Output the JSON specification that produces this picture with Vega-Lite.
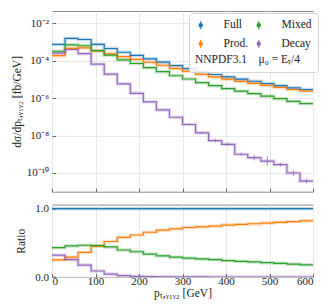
{
  "$schema": "https://vega.github.io/schema/vega-lite/v6.json",
  "padding": {"left": 10, "top": 10, "right": 0, "bottom": 0},
  "background": "white",
  "spacing": 8.6,
  "config": {
    "font": "Liberation Serif",
    "view": {"stroke": "#8c8c8c", "strokeWidth": 1},
    "axis": {
      "labelFont": "Liberation Serif", "titleFont": "Liberation Serif",
      "labelFontSize": 11, "titleFontSize": 11.5, "labelColor": "#222", "titleColor": "#222",
      "titleFontWeight": "normal", "domain": false, "tickColor": "#666",
      "tickSize": -3.5, "labelPadding": 7, "gridColor": "#e8e8e8", "gridWidth": 1
    }
  },
  "datasets": {
    "top": [
      {"lo": 0, "hi": 30, "Full": 7.41e-4, "Prod": 1.85e-4, "Mixed": 3.19e-4, "Decay": 2.5e-4},
      {"lo": 30, "hi": 60, "Full": 1.55e-3, "Prod": 4.50e-4, "Mixed": 7.05e-4, "Decay": 3.95e-4},
      {"lo": 60, "hi": 90, "Full": 1.35e-3, "Prod": 4.86e-4, "Mixed": 6.28e-4, "Decay": 2.36e-4},
      {"lo": 90, "hi": 120, "Full": 7.41e-4, "Prod": 3.33e-4, "Mixed": 3.41e-4, "Decay": 6.5e-5},
      {"lo": 120, "hi": 150, "Full": 4.47e-4, "Prod": 2.32e-4, "Mixed": 1.97e-4, "Decay": 1.9e-5},
      {"lo": 150, "hi": 180, "Full": 2.82e-4, "Prod": 1.64e-4, "Mixed": 1.11e-4, "Decay": 5.8e-6},
      {"lo": 180, "hi": 210, "Full": 1.91e-4, "Prod": 1.17e-4, "Mixed": 7.07e-5, "Decay": 1.8e-6},
      {"lo": 210, "hi": 240, "Full": 1.26e-4, "Prod": 8.25e-5, "Mixed": 4.22e-5, "Decay": 6.3e-7},
      {"lo": 240, "hi": 270, "Full": 8.32e-5, "Prod": 5.70e-5, "Mixed": 2.58e-5, "Decay": 2.35e-7},
      {"lo": 270, "hi": 300, "Full": 5.37e-5, "Prod": 3.79e-5, "Mixed": 1.56e-5, "Decay": 9.5e-8},
      {"lo": 300, "hi": 330, "Full": 3.80e-5, "Prod": 2.76e-5, "Mixed": 1.05e-5, "Decay": 3.9e-8},
      {"lo": 330, "hi": 360, "Full": 2.51e-5, "Prod": 1.84e-5, "Mixed": 6.65e-6, "Decay": 1.4e-8},
      {"lo": 360, "hi": 390, "Full": 1.82e-5, "Prod": 1.36e-5, "Mixed": 4.64e-6, "Decay": 5.4e-9},
      {"lo": 390, "hi": 420, "Full": 1.35e-5, "Prod": 1.03e-5, "Mixed": 3.24e-6, "Decay": 3.4e-9},
      {"lo": 420, "hi": 450, "Full": 1.02e-5, "Prod": 7.85e-6, "Mixed": 2.35e-6, "Decay": 1.0e-9},
      {"lo": 450, "hi": 480, "Full": 7.94e-6, "Prod": 6.19e-6, "Mixed": 1.75e-6, "Decay": 6.6e-10},
      {"lo": 480, "hi": 510, "Full": 6.03e-6, "Prod": 4.76e-6, "Mixed": 1.27e-6, "Decay": 4.3e-10},
      {"lo": 510, "hi": 540, "Full": 4.68e-6, "Prod": 3.74e-6, "Mixed": 9.36e-7, "Decay": 2.8e-10},
      {"lo": 540, "hi": 570, "Full": 3.55e-6, "Prod": 2.88e-6, "Mixed": 6.67e-7, "Decay": 1.0e-10},
      {"lo": 570, "hi": 600, "Full": 2.88e-6, "Prod": 2.37e-6, "Mixed": 5.13e-7, "Decay": 3.7e-11}
    ],
    "ratio": [
      {"lo": 0, "hi": 30, "Full": 1, "Prod": 0.25, "Mixed": 0.43, "Decay": 0.32},
      {"lo": 30, "hi": 60, "Full": 1, "Prod": 0.29, "Mixed": 0.455, "Decay": 0.255},
      {"lo": 60, "hi": 90, "Full": 1, "Prod": 0.36, "Mixed": 0.465, "Decay": 0.175},
      {"lo": 90, "hi": 120, "Full": 1, "Prod": 0.45, "Mixed": 0.46, "Decay": 0.088},
      {"lo": 120, "hi": 150, "Full": 1, "Prod": 0.52, "Mixed": 0.44, "Decay": 0.043},
      {"lo": 150, "hi": 180, "Full": 1, "Prod": 0.58, "Mixed": 0.395, "Decay": 0.021},
      {"lo": 180, "hi": 210, "Full": 1, "Prod": 0.615, "Mixed": 0.37, "Decay": 0.0095},
      {"lo": 210, "hi": 240, "Full": 1, "Prod": 0.655, "Mixed": 0.335, "Decay": 0.005},
      {"lo": 240, "hi": 270, "Full": 1, "Prod": 0.685, "Mixed": 0.31, "Decay": 0.0028},
      {"lo": 270, "hi": 300, "Full": 1, "Prod": 0.705, "Mixed": 0.29, "Decay": 0.0018},
      {"lo": 300, "hi": 330, "Full": 1, "Prod": 0.725, "Mixed": 0.275, "Decay": 0.001},
      {"lo": 330, "hi": 360, "Full": 1, "Prod": 0.735, "Mixed": 0.265, "Decay": 0.0006},
      {"lo": 360, "hi": 390, "Full": 1, "Prod": 0.745, "Mixed": 0.255, "Decay": 0.0003},
      {"lo": 390, "hi": 420, "Full": 1, "Prod": 0.76, "Mixed": 0.24, "Decay": 0.00025},
      {"lo": 420, "hi": 450, "Full": 1, "Prod": 0.77, "Mixed": 0.23, "Decay": 0.0001},
      {"lo": 450, "hi": 480, "Full": 1, "Prod": 0.78, "Mixed": 0.22, "Decay": 0.00008},
      {"lo": 480, "hi": 510, "Full": 1, "Prod": 0.79, "Mixed": 0.21, "Decay": 0.00007},
      {"lo": 510, "hi": 540, "Full": 1, "Prod": 0.8, "Mixed": 0.2, "Decay": 0.00006},
      {"lo": 540, "hi": 570, "Full": 1, "Prod": 0.812, "Mixed": 0.188, "Decay": 0.00003},
      {"lo": 570, "hi": 600, "Full": 1, "Prod": 0.822, "Mixed": 0.178, "Decay": 0.00001}
    ],
    "decayerr": [
      {"c": 255, "lo": 2.19e-7, "hi": 2.52e-7},
      {"c": 285, "lo": 8.87e-8, "hi": 1.02e-7},
      {"c": 315, "lo": 3.48e-8, "hi": 4.38e-8},
      {"c": 345, "lo": 1.25e-8, "hi": 1.57e-8},
      {"c": 375, "lo": 4.29e-9, "hi": 6.8e-9},
      {"c": 405, "lo": 2.89e-9, "hi": 4.0e-9},
      {"c": 435, "lo": 8.3e-10, "hi": 1.2e-9},
      {"c": 465, "lo": 4.67e-10, "hi": 9.32e-10},
      {"c": 495, "lo": 2.42e-10, "hi": 7.65e-10},
      {"c": 525, "lo": 2.22e-10, "hi": 3.52e-10},
      {"c": 555, "lo": 7.1e-11, "hi": 1.41e-10},
      {"c": 585, "lo": 2.8e-11, "hi": 4.9e-11}
    ]
  },
  "vconcat": [
    {
      "width": 261, "height": 180.7,
      "layer": [
        {
          "data": {"name": "top"},
          "transform": [
            {"fold": ["Full", "Prod", "Mixed", "Decay"], "as": ["series", "v"]},
            {"fold": ["lo", "hi"], "as": ["edge", "x"]}
          ],
          "mark": {"type": "line", "strokeWidth": 3.5, "opacity": 0.25, "clip": true},
          "encoding": {
            "x": {"field": "x", "type": "quantitative", "scale": {"domain": [0, 600], "nice": false},
                  "axis": {"values": [0, 100, 200, 300, 400, 500, 600], "labels": false, "title": null}},
            "y": {"field": "v", "type": "quantitative",
                  "scale": {"type": "log", "domain": [1e-11, 0.045], "nice": false},
                  "axis": {"values": [1e-10, 1e-8, 1e-6, 1e-4, 1e-2],
                           "labelExpr": "datum.value < 3e-10 ? '10⁻¹⁰' : datum.value < 3e-8 ? '10⁻⁸' : datum.value < 3e-6 ? '10⁻⁶' : datum.value < 3e-4 ? '10⁻⁴' : '10⁻²'",
                           "title": "dσ/dpₜ,ᵧ₁ᵧ₂ [fb/GeV]", "titlePadding": 4}},
            "color": {"field": "series", "type": "nominal",
                      "scale": {"domain": ["Full", "Prod", "Mixed", "Decay"], "range": ["#1f77b4", "#ff7f0e", "#2ca02c", "#9467bd"]},
                      "legend": {"orient": "none", "legendX": 137, "legendY": 2, "columns": 2,
                                 "title": "NNPDF3.1\u00a0\u00a0\u00a0\u00a0μ₀ = Eₜ/4", "titleOrient": "bottom",
                                 "titleFont": "Liberation Serif", "titleFontSize": 11.5, "titleFontWeight": "normal", "titleColor": "#222",
                                 "labelFont": "Liberation Serif", "labelFontSize": 11.5, "labelColor": "#222",
                                 "labelExpr": "datum.label == 'Prod' ? 'Prod.' : datum.label",
                                 "symbolType": "M0,-1L0,1M-0.4,0A0.4,0.4,0,1,1,0.4,0A0.4,0.4,0,1,1,-0.4,0Z",
                                 "symbolSize": 64, "symbolStrokeWidth": 1.2, "symbolOpacity": 1,
                                 "fillColor": "rgba(255,255,255,0.85)", "strokeColor": "#d5d5d5", "cornerRadius": 3,
                                 "padding": 6, "labelOffset": 17, "columnPadding": 4, "rowPadding": 5, "titlePadding": 4,
                                 "labelLimit": 0,
                                 "encode": {"symbols": {"update": {"fill": {"scale": "color", "field": "value"}, "stroke": {"scale": "color", "field": "value"}, "opacity": {"value": 1}}}}}},
            "order": [{"field": "lo", "type": "quantitative"}, {"field": "x", "type": "quantitative"}]
          }
        },
        {
          "data": {"name": "top"},
          "transform": [
            {"fold": ["Full", "Prod", "Mixed", "Decay"], "as": ["series", "v"]},
            {"fold": ["lo", "hi"], "as": ["edge", "x"]}
          ],
          "mark": {"type": "line", "strokeWidth": 1.2, "clip": true},
          "encoding": {
            "x": {"field": "x", "type": "quantitative"},
            "y": {"field": "v", "type": "quantitative"},
            "color": {"field": "series", "type": "nominal"},
            "order": [{"field": "lo", "type": "quantitative"}, {"field": "x", "type": "quantitative"}]
          }
        },
        {
          "data": {"name": "decayerr"},
          "mark": {"type": "rule", "color": "#9467bd", "strokeWidth": 1, "opacity": 0.8},
          "encoding": {
            "x": {"field": "c", "type": "quantitative"},
            "y": {"field": "lo", "type": "quantitative"},
            "y2": {"field": "hi"}
          }
        }
      ]
    },
    {
      "width": 261, "height": 72.4,
      "layer": [
        {
          "data": {"name": "ratio"},
          "transform": [
            {"fold": ["Full", "Prod", "Mixed", "Decay"], "as": ["series", "v"]},
            {"fold": ["lo", "hi"], "as": ["edge", "x"]}
          ],
          "mark": {"type": "line", "strokeWidth": 3.5, "opacity": 0.25, "clip": true},
          "encoding": {
            "x": {"field": "x", "type": "quantitative", "scale": {"domain": [0, 600], "nice": false},
                  "axis": {"values": [0, 100, 200, 300, 400, 500, 600], "title": "pₜ,ᵧ₁ᵧ₂ [GeV]", "titlePadding": 1, "labelPadding": 2}},
            "y": {"field": "v", "type": "quantitative", "scale": {"domain": [0, 1.06], "nice": false},
                  "axis": {"values": [0, 0.5, 1], "format": ".1f", "title": "Ratio", "titlePadding": 8}},
            "color": {"field": "series", "type": "nominal"},
            "order": [{"field": "lo", "type": "quantitative"}, {"field": "x", "type": "quantitative"}]
          }
        },
        {
          "data": {"name": "ratio"},
          "transform": [
            {"fold": ["Full", "Prod", "Mixed", "Decay"], "as": ["series", "v"]},
            {"fold": ["lo", "hi"], "as": ["edge", "x"]}
          ],
          "mark": {"type": "line", "strokeWidth": 1.2, "clip": true},
          "encoding": {
            "x": {"field": "x", "type": "quantitative"},
            "y": {"field": "v", "type": "quantitative"},
            "color": {"field": "series", "type": "nominal"},
            "order": [{"field": "lo", "type": "quantitative"}, {"field": "x", "type": "quantitative"}]
          }
        }
      ]
    }
  ]
}
